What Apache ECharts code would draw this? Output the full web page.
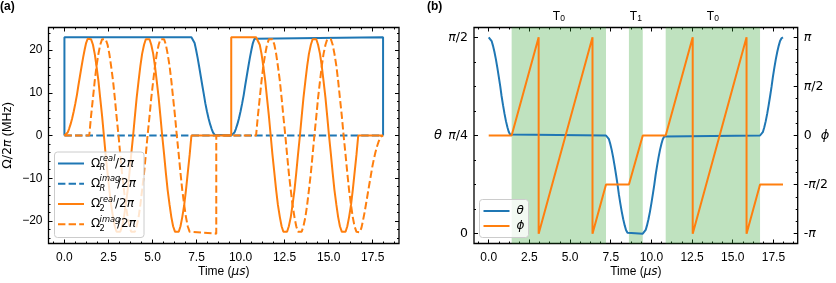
<!DOCTYPE html>
<html><head><meta charset="utf-8">
<script src="https://cdn.jsdelivr.net/npm/echarts@6/dist/echarts.min.js"></script>
<style>html,body{margin:0;padding:0;background:#fff}#c{width:836px;height:283px}</style>
</head><body><div id="c"></div>
<script>
// ---------------- data ----------------
// time samples (µs) of the four ramp segments and the two T0 segments
const tS1 = [0,0.09,0.18,0.26,0.35,0.44,0.53,0.62,0.71,0.79,0.88,0.97,1.06,1.15,1.23,1.32,1.41];
const tS2 = [7.21,7.30,7.39,7.47,7.56,7.65,7.74,7.83,7.92,8.00,8.09,8.18,8.27,8.36,8.44,8.53,8.62];
const tS3 = [9.47,9.56,9.65,9.73,9.82,9.91,10.00,10.09,10.18,10.26,10.35,10.44,10.53,10.62,10.70,10.79,10.88];
const tS4 = [16.68,16.77,16.86,16.94,17.03,17.12,17.21,17.30,17.39,17.47,17.56,17.65,17.74,17.83,17.91,18.00,18.09];
const tT0a = [1.41,1.51,1.62,1.72,1.82,1.93,2.03,2.14,2.24,2.34,2.45,2.55,2.65,2.76,2.86,2.96,3.07,3.17,3.27,3.38,3.48,3.59,3.69,3.79,3.90,4.00,4.10,4.21,4.31,4.41,4.52,4.62,4.72,4.83,4.93,5.04,5.14,5.24,5.35,5.45,5.55,5.66,5.76,5.86,5.97,6.07,6.17,6.28,6.38,6.49,6.59,6.69,6.80,6.90,7.00,7.11,7.21];
const tT0b = [10.88,10.98,11.09,11.19,11.29,11.40,11.50,11.61,11.71,11.81,11.92,12.02,12.12,12.23,12.33,12.43,12.54,12.64,12.74,12.85,12.95,13.06,13.16,13.26,13.37,13.47,13.57,13.68,13.78,13.88,13.99,14.09,14.19,14.30,14.40,14.51,14.61,14.71,14.82,14.92,15.02,15.13,15.23,15.33,15.44,15.54,15.64,15.75,15.85,15.96,16.06,16.16,16.27,16.37,16.47,16.58,16.68];

// (a) Rabi frequencies, MHz
const omegaRRealHead = [[0,0],[0,23]];
const omegaRRealS2 = [23,22.66,21.66,20.14,18.24,16.10,13.88,11.66,9.53,7.52,5.69,4.06,2.66,1.52,0.69,0.17,0];
const omegaRRealS3 = [0,0.17,0.69,1.52,2.66,4.06,5.69,7.52,9.53,11.66,13.88,16.10,18.24,20.14,21.66,22.66,23];
const omegaRRealTail = [[18.09,23],[18.09,0]];
const omegaRImag = [[0,0],[18.09,0]];

const omega2RealS1 = [0,0.17,0.69,1.52,2.66,4.06,5.69,7.52,9.53,11.66,13.88,16.10,18.24,20.14,21.66,22.66,23];
const omega2RealT0 = [23,22.56,21.25,19.12,16.26,12.78,8.80,4.49,0,-4.49,-8.80,-12.78,-16.26,-19.12,-21.25,-22.56,-23,-22.56,-21.25,-19.12,-16.26,-12.78,-8.80,-4.49,0,4.49,8.80,12.78,16.26,19.12,21.25,22.56,23,22.56,21.25,19.12,16.26,12.78,8.80,4.49,0,-4.49,-8.80,-12.78,-16.26,-19.12,-21.25,-22.56,-23,-22.56,-21.25,-19.12,-16.26,-12.78,-8.80,-4.49,0];
const omega2RealGap = [[9.47,0],[9.47,23]];
const omega2RealTail = [[18.09,0]];

const omega2ImagHead = [[0,0]];
const omega2ImagT0 = [0,4.49,8.80,12.78,16.26,19.12,21.25,22.56,23,22.56,21.25,19.12,16.26,12.78,8.80,4.49,0,-4.49,-8.80,-12.78,-16.26,-19.12,-21.25,-22.56,-23,-22.56,-21.25,-19.12,-16.26,-12.78,-8.80,-4.49,0,4.49,8.80,12.78,16.26,19.12,21.25,22.56,23,22.56,21.25,19.12,16.26,12.78,8.80,4.49,0,-4.49,-8.80,-12.78,-16.26,-19.12,-21.25,-22.56,-23];
const omega2ImagGap = [[8.62,-23],[8.62,0]];
const omega2ImagS4 = [-23,-22.66,-21.66,-20.14,-18.24,-16.10,-13.88,-11.66,-9.53,-7.52,-5.69,-4.06,-2.66,-1.52,-0.69,-0.17,0];

// (b) angles, in units of π
const thetaS1 = [0.5,0.4976,0.4905,0.4789,0.4634,0.4444,0.4228,0.3994,0.375,0.3506,0.3272,0.3056,0.2866,0.2711,0.2595,0.2524,0.25];
const thetaS2 = [0.25,0.2476,0.2405,0.2289,0.2134,0.1944,0.1728,0.1494,0.125,0.1006,0.0772,0.0556,0.0366,0.0211,0.0095,0.0024,0];
const thetaS3 = [0,0.0024,0.0095,0.0211,0.0366,0.0556,0.0772,0.1006,0.125,0.1494,0.1728,0.1944,0.2134,0.2289,0.2405,0.2476,0.25];
const thetaS4 = [0.25,0.2524,0.2595,0.2711,0.2866,0.3056,0.3272,0.3506,0.375,0.3994,0.4228,0.4444,0.4634,0.4789,0.4905,0.4976,0.5];
const phiTime = [0,1.41,3.07,3.07,6.38,6.38,7.21,8.62,9.47,10.88,12.54,12.54,15.85,15.85,16.68,18.09];
const phiOverPi = [0,0,1,-1,1,-1,-0.5,-0.5,0,0,1,-1,1,-1,-0.5,-0.5];

// shaded intervals
const bandStart = [1.41, 8.62, 10.88];
const bandEnd = [7.21, 9.47, 16.68];
const bandName = ['T0', 'T1', 'T0'];

// ticks
const xMajor = [0,2.5,5,7.5,10,12.5,15,17.5];
const xMinor = [-0.625,0.625,1.25,1.875,3.125,3.75,4.375,5.625,6.25,6.875,8.125,8.75,9.375,10.625,11.25,11.875,13.125,13.75,14.375,15.625,16.25,16.875,18.125,18.75];
const yMajorA = [-20,-10,0,10,20];
const yMinorA = [-24,-22,-18,-16,-14,-12,-8,-6,-4,-2,2,4,6,8,12,14,16,18,22,24];
const thetaMajor = [0,0.25,0.5];
const thetaTickLabels = ['0','{i|π}/4','{i|π}/2'];
const thetaMinor = [0.0625,0.125,0.1875,0.3125,0.375,0.4375];
const phiMajor = [-1,-0.5,0,0.5,1];
const phiTickLabels = ['-{i|π}','-{i|π}/2','0','{i|π}/2','{i|π}'];
const phiMinor = [-0.875,-0.75,-0.625,-0.375,-0.25,-0.125,0.125,0.25,0.375,0.625,0.75,0.875];

// ---------------- chart ----------------
const SANS = "'Liberation Sans', Arial, Helvetica, sans-serif";
const MATH = "'DejaVu Sans', sans-serif";
const BLUE = '#1f77b4', ORANGE = '#ff7f0e';
const DASH = [7.4, 3.2];
const zip = (ts, vs) => ts.map((t, i) => [t, vs[i]]);

const XMIN = -0.9045, XMAX = 18.9945;
const grids = [
  {left: 48.5, top: 27.5, width: 350.5, height: 216, show: true, borderColor: '#000', borderWidth: 1.3, outerBoundsMode: 'none', containLabel: false},
  {left: 474, top: 27.5, width: 323.7, height: 216, show: true, borderColor: '#000', borderWidth: 1.3, outerBoundsMode: 'none', containLabel: false}
];

function ax(grid, pos, min, max, ticks, len, label, extra) {
  const a = {
    type: 'value', gridIndex: grid, position: pos, min: min, max: max,
    axisLine: {show: false, onZero: false}, splitLine: {show: false},
    axisTick: {show: true, inside: true, length: len, customValues: ticks, lineStyle: {color: '#000', width: 1}},
    axisLabel: label ? Object.assign({customValues: ticks, color: '#000', fontSize: 12, fontFamily: SANS}, label) : {show: false},
    nameMoveOverlap: false
  };
  return Object.assign(a, extra || {});
}

const timeName = {
  name: 'Time ({i|μs})', nameLocation: 'middle', nameGap: 22,
  nameTextStyle: {color: '#000', fontSize: 12, fontFamily: SANS, rich: {i: {fontStyle: 'italic', fontFamily: MATH, fontSize: 12, color: '#000'}}}
};
const xLabel = {margin: 8, formatter: v => v.toFixed(1)};
const mathRich = {i: {fontStyle: 'italic', fontFamily: MATH, fontSize: 12.5, color: '#000'}};

const xAxes = [];
[0, 1].forEach(g => {
  xAxes.push(ax(g, 'bottom', XMIN, XMAX, xMajor, 4, xLabel, timeName));
  xAxes.push(ax(g, 'bottom', XMIN, XMAX, xMinor, 2));
  xAxes.push(ax(g, 'top', XMIN, XMAX, xMajor, 4));
  xAxes.push(ax(g, 'top', XMIN, XMAX, xMinor, 2));
});

const yAxes = [
  ax(0, 'left', -25.3, 25.3, yMajorA, 4, {margin: 6, formatter: v => v < 0 ? '\u2212' + Math.abs(v) : String(v)}, {
    name: '{m|Ω/2}{i|π} (MHz)', nameLocation: 'middle', nameGap: 34,
    nameTextStyle: {color: '#000', fontSize: 12.5, fontFamily: SANS, rich: {m: {fontFamily: MATH, fontSize: 12.5, color: '#000'}, i: mathRich.i}}
  }),
  ax(0, 'left', -25.3, 25.3, yMinorA, 2),
  ax(0, 'right', -25.3, 25.3, yMajorA, 4),
  ax(0, 'right', -25.3, 25.3, yMinorA, 2),
  ax(1, 'left', -0.025, 0.525, thetaMajor, 4, {margin: 6, fontFamily: MATH, fontSize: 12.5, rich: mathRich, formatter: v => thetaTickLabels[thetaMajor.indexOf(v)]}, {
    name: 'θ', nameLocation: 'middle', nameRotate: 0, nameGap: 32,
    nameTextStyle: {color: '#000', fontSize: 13, fontFamily: MATH, fontStyle: 'italic'}
  }),
  ax(1, 'left', -0.025, 0.525, thetaMinor, 2),
  ax(1, 'right', -1.1, 1.1, phiMajor, 4, {margin: 6, fontFamily: MATH, fontSize: 12.5, rich: mathRich, formatter: v => phiTickLabels[phiMajor.indexOf(v)]}, {
    name: 'ϕ', nameLocation: 'middle', nameRotate: 0, nameGap: 23,
    nameTextStyle: {color: '#000', fontSize: 13, fontFamily: MATH, fontStyle: 'italic'}
  }),
  ax(1, 'right', -1.1, 1.1, phiMinor, 2)
];

function line(xi, yi, data, color, dashed, extra) {
  return Object.assign({
    type: 'line', xAxisIndex: xi, yAxisIndex: yi, data: data, symbol: 'none', silent: true,
    lineStyle: {color: color, width: 2, type: dashed ? DASH : 'solid', cap: 'butt'},
    itemStyle: {color: color}, animation: false
  }, extra || {});
}

const series = [
  line(0, 0, omegaRRealHead.concat(zip(tS2, omegaRRealS2), zip(tS3, omegaRRealS3), omegaRRealTail), BLUE, false),
  line(0, 0, omegaRImag, BLUE, true),
  line(0, 0, zip(tS1, omega2RealS1).concat(zip(tT0a, omega2RealT0), omega2RealGap, zip(tT0b, omega2RealT0), omega2RealTail), ORANGE, false),
  line(0, 0, omega2ImagHead.concat(zip(tT0a, omega2ImagT0), omega2ImagGap, zip(tT0b, omega2ImagT0), zip(tS4, omega2ImagS4)), ORANGE, true),
  line(4, 4, zip(tS1, thetaS1).concat(zip(tS2, thetaS2), zip(tS3, thetaS3), zip(tS4, thetaS4)), BLUE, false, {
    markArea: {
      silent: true,
      itemStyle: {color: 'rgba(44,160,44,0.3)'},
      label: {
        show: true, position: 'top', distance: 4, color: '#000', fontSize: 12, fontFamily: SANS,
        formatter: p => '{t|T}{s|' + p.name.slice(1) + '}',
        rich: {t: {fontSize: 12, fontFamily: SANS, color: '#000'}, s: {fontSize: 8.5, fontFamily: SANS, color: '#000', padding: [5, 0, 0, 0]}}
      },
      data: bandStart.map((s, i) => [{xAxis: s, name: bandName[i]}, {xAxis: bandEnd[i]}])
    }
  }),
  line(4, 6, zip(phiTime, phiOverPi), ORANGE, false)
];

// custom legends (stacked super/subscripts) and panel letters
const legendRows = [
  {sup: 'real', sub: 'R', subItalic: true, color: BLUE, dash: false, y: 163.5},
  {sup: 'imag', sub: 'R', subItalic: true, color: BLUE, dash: true, y: 183.8},
  {sup: 'real', sub: '2', subItalic: false, color: ORANGE, dash: false, y: 204},
  {sup: 'imag', sub: '2', subItalic: false, color: ORANGE, dash: true, y: 224.3}
];
const graphics = [
  {type: 'text', x: 0, y: 7, z: 100, style: {text: '(a)', fontFamily: SANS, fontWeight: 'bold', fontSize: 12, fill: '#000', verticalAlign: 'middle'}},
  {type: 'text', x: 427, y: 7, z: 100, style: {text: '(b)', fontFamily: SANS, fontWeight: 'bold', fontSize: 12, fill: '#000', verticalAlign: 'middle'}},
  {type: 'rect', z: 100, shape: {x: 54.5, y: 152, width: 89.5, height: 85.5, r: 3}, style: {fill: 'rgba(255,255,255,0.8)', stroke: '#cccccc', lineWidth: 1}},
  {type: 'rect', z: 100, shape: {x: 479.5, y: 199.5, width: 49, height: 38, r: 3}, style: {fill: 'rgba(255,255,255,0.8)', stroke: '#cccccc', lineWidth: 1}}
];
legendRows.forEach(r => {
  graphics.push({type: 'line', z: 101, shape: {x1: 58, y1: r.y, x2: 84, y2: r.y}, style: {stroke: r.color, lineWidth: 2, lineDash: r.dash ? DASH : null}});
  graphics.push({type: 'text', z: 101, x: 91, y: r.y, style: {text: 'Ω', fontFamily: MATH, fontSize: 12, fill: '#000', verticalAlign: 'middle'}});
  graphics.push({type: 'text', z: 101, x: 99.6, y: r.y - 4.5, style: {text: r.sup, fontFamily: MATH, fontStyle: 'italic', fontSize: 8.3, fill: '#000', verticalAlign: 'middle'}});
  graphics.push({type: 'text', z: 101, x: 99.6, y: r.y + 4.8, style: {text: r.sub, fontFamily: MATH, fontStyle: r.subItalic ? 'italic' : 'normal', fontSize: 8.3, fill: '#000', verticalAlign: 'middle'}});
  graphics.push({type: 'text', z: 101, x: r.sup === 'imag' ? 117 : 115, y: r.y, style: {text: '/2{i|π}', rich: {i: {fontStyle: 'italic', fontFamily: MATH, fontSize: 12, fill: '#000'}}, fontFamily: MATH, fontSize: 12, fill: '#000', verticalAlign: 'middle'}});
});
[{t: 'θ', c: BLUE, y: 211}, {t: 'ϕ', c: ORANGE, y: 226}].forEach(r => {
  graphics.push({type: 'line', z: 101, shape: {x1: 483.5, y1: r.y, x2: 509.5, y2: r.y}, style: {stroke: r.c, lineWidth: 2}});
  graphics.push({type: 'text', z: 101, x: 516.5, y: r.y, style: {text: r.t, fontFamily: MATH, fontStyle: 'italic', fontSize: 12, fill: '#000', verticalAlign: 'middle'}});
});

const chart = echarts.init(document.getElementById('c'), null, {renderer: 'canvas'});
chart.setOption({
  animation: false,
  backgroundColor: '#fff',
  grid: grids,
  xAxis: xAxes,
  yAxis: yAxes,
  series: series,
  graphic: graphics
});
</script>
</body></html>
